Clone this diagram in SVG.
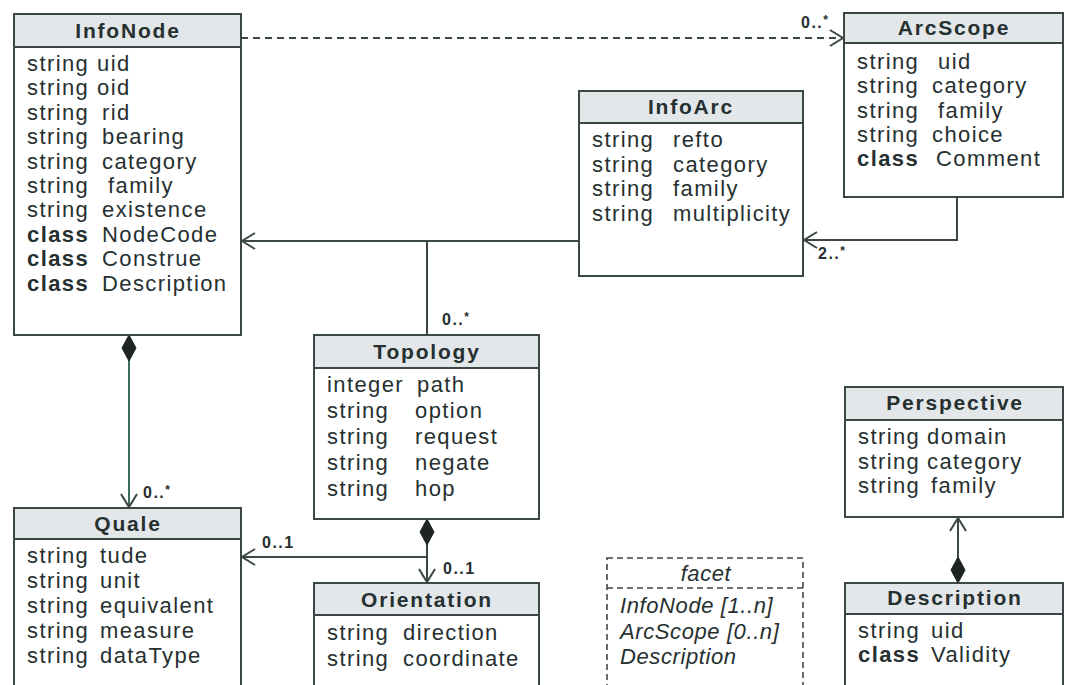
<svg xmlns="http://www.w3.org/2000/svg" width="1066" height="685" viewBox="0 0 1066 685">
  <style>
    .box { fill: #ffffff; stroke: #3b4744; stroke-width: 2; }
    .head { fill: #e3e7e9; stroke: #3b4744; stroke-width: 2; }
    .note { fill: #ffffff; stroke: #3b4744; stroke-width: 1.6; stroke-dasharray: 6 4; }
    .title { font-family: "Liberation Sans", Arial, sans-serif; font-weight: bold; font-size: 21px; letter-spacing: 1.8px; fill: #263030; text-anchor: middle; }
    .attr { font-family: "Liberation Sans", Arial, sans-serif; font-size: 22px; letter-spacing: 1.4px; fill: #263030; }
    .kw { font-weight: bold; }
    .it { font-family: "Liberation Sans", Arial, sans-serif; font-style: italic; font-size: 22px; letter-spacing: 0.6px; fill: #263030; }
    .mult { font-family: "Liberation Sans", Arial, sans-serif; font-weight: bold; font-size: 16px; letter-spacing: 1.5px; fill: #263030; }
    .star { font-size: 12px; }
    .edge { fill: none; stroke: #3b4744; stroke-width: 2; }
    .teal { stroke: #3a6c62; }
    .dash { stroke-dasharray: 7 5; }
  </style>
  <defs>
    <marker id="open" markerUnits="userSpaceOnUse" markerWidth="20" markerHeight="20" refX="0" refY="0" orient="auto" overflow="visible">
      <path d="M -13 -8 L 0 0 L -13 8" fill="none" stroke="#3b4744" stroke-width="2"/>
    </marker>
    <marker id="diamond" markerUnits="userSpaceOnUse" markerWidth="30" markerHeight="20" refX="0" refY="0" orient="auto" overflow="visible">
      <path d="M 0 0 L 13 -7 L 26 0 L 13 7 Z" fill="#1e2422" stroke="#1e2422" stroke-width="1"/>
    </marker>
  </defs>

  <!-- connectors and their multiplicities -->
  <g id="connectors">
    <path class="edge dash" d="M 241 38 L 843 38" marker-end="url(#open)"/>
    <path class="edge" d="M 957 197 L 957 240 L 804 240" marker-end="url(#open)"/>
    <path class="edge" d="M 579 241 L 242 241" marker-end="url(#open)"/>
    <path class="edge" d="M 427 241 L 427 335"/>
    <path class="edge teal" d="M 129 335 L 129 507" marker-start="url(#diamond)" marker-end="url(#open)"/>
    <path class="edge" d="M 427 519 L 427 582" marker-start="url(#diamond)" marker-end="url(#open)"/>
    <path class="edge" d="M 427 557 L 242 557" marker-end="url(#open)"/>
    <path class="edge" d="M 958 583 L 958 518" marker-start="url(#diamond)" marker-end="url(#open)"/>
    <text class="mult" x="801" y="28">0..<tspan class="star" dy="-4">*</tspan></text>
    <text class="mult" x="818" y="259">2..<tspan class="star" dy="-4">*</tspan></text>
    <text class="mult" x="442" y="325">0..<tspan class="star" dy="-4">*</tspan></text>
    <text class="mult" x="143" y="498">0..<tspan class="star" dy="-4">*</tspan></text>
    <text class="mult" x="262" y="548">0..1</text>
    <text class="mult" x="443" y="574">0..1</text>
  </g>

  <g id="InfoNode">
    <rect class="box" x="14" y="14" width="227" height="321"/>
    <rect class="head" x="14" y="14" width="227" height="33"/>
    <text class="title" x="128" y="38">InfoNode</text>
    <text class="attr" x="27" y="71">string<tspan x="97">uid</tspan></text>
    <text class="attr" x="27" y="95.4">string<tspan x="97">oid</tspan></text>
    <text class="attr" x="27" y="119.8">string<tspan x="102">rid</tspan></text>
    <text class="attr" x="27" y="144.2">string<tspan x="102">bearing</tspan></text>
    <text class="attr" x="27" y="168.6">string<tspan x="102">category</tspan></text>
    <text class="attr" x="27" y="193">string<tspan x="108">family</tspan></text>
    <text class="attr" x="27" y="217.4">string<tspan x="102">existence</tspan></text>
    <text class="attr" x="27" y="241.8"><tspan class="kw">class</tspan><tspan x="102">NodeCode</tspan></text>
    <text class="attr" x="27" y="266.2"><tspan class="kw">class</tspan><tspan x="102">Construe</tspan></text>
    <text class="attr" x="27" y="290.6"><tspan class="kw">class</tspan><tspan x="102">Description</tspan></text>
  </g>

  <g id="ArcScope">
    <rect class="box" x="844" y="13" width="219" height="184"/>
    <rect class="head" x="844" y="13" width="219" height="30"/>
    <text class="title" x="954" y="35">ArcScope</text>
    <text class="attr" x="857" y="69">string<tspan x="938">uid</tspan></text>
    <text class="attr" x="857" y="93.3">string<tspan x="932">category</tspan></text>
    <text class="attr" x="857" y="117.6">string<tspan x="938">family</tspan></text>
    <text class="attr" x="857" y="141.9">string<tspan x="932">choice</tspan></text>
    <text class="attr" x="857" y="166.2"><tspan class="kw">class</tspan><tspan x="936">Comment</tspan></text>
  </g>

  <g id="InfoArc">
    <rect class="box" x="579" y="91" width="224" height="185"/>
    <rect class="head" x="579" y="91" width="224" height="32"/>
    <text class="title" x="691" y="114">InfoArc</text>
    <text class="attr" x="592" y="147">string<tspan x="673">refto</tspan></text>
    <text class="attr" x="592" y="171.5">string<tspan x="673">category</tspan></text>
    <text class="attr" x="592" y="196">string<tspan x="673">family</tspan></text>
    <text class="attr" x="592" y="220.5">string<tspan x="673">multiplicity</tspan></text>
  </g>

  <g id="Topology">
    <rect class="box" x="314" y="335" width="225" height="184"/>
    <rect class="head" x="314" y="335" width="225" height="33"/>
    <text class="title" x="427" y="359">Topology</text>
    <text class="attr" x="327" y="392">integer<tspan x="417">path</tspan></text>
    <text class="attr" x="327" y="418">string<tspan x="415">option</tspan></text>
    <text class="attr" x="327" y="444">string<tspan x="415">request</tspan></text>
    <text class="attr" x="327" y="470">string<tspan x="415">negate</tspan></text>
    <text class="attr" x="327" y="496">string<tspan x="415">hop</tspan></text>
  </g>

  <g id="Orientation">
    <rect class="box" x="314" y="583" width="225" height="115"/>
    <rect class="head" x="314" y="583" width="225" height="32"/>
    <text class="title" x="427" y="607">Orientation</text>
    <text class="attr" x="327" y="640">string<tspan x="403">direction</tspan></text>
    <text class="attr" x="327" y="666">string<tspan x="403">coordinate</tspan></text>
  </g>

  <g id="Quale">
    <rect class="box" x="14" y="508" width="227" height="190"/>
    <rect class="head" x="14" y="508" width="227" height="31"/>
    <text class="title" x="128" y="531">Quale</text>
    <text class="attr" x="27" y="563">string<tspan x="100">tude</tspan></text>
    <text class="attr" x="27" y="588">string<tspan x="100">unit</tspan></text>
    <text class="attr" x="27" y="613">string<tspan x="100">equivalent</tspan></text>
    <text class="attr" x="27" y="638">string<tspan x="100">measure</tspan></text>
    <text class="attr" x="27" y="663">string<tspan x="100">dataType</tspan></text>
  </g>

  <g id="Perspective">
    <rect class="box" x="845" y="387" width="218" height="130"/>
    <rect class="head" x="845" y="387" width="218" height="33"/>
    <text class="title" x="955" y="410">Perspective</text>
    <text class="attr" x="858" y="444">string<tspan x="927">domain</tspan></text>
    <text class="attr" x="858" y="468.5">string<tspan x="927">category</tspan></text>
    <text class="attr" x="858" y="493">string<tspan x="931">family</tspan></text>
  </g>

  <g id="Description">
    <rect class="box" x="845" y="583" width="218" height="115"/>
    <rect class="head" x="845" y="583" width="218" height="31"/>
    <text class="title" x="955" y="605">Description</text>
    <text class="attr" x="858" y="638">string<tspan x="931">uid</tspan></text>
    <text class="attr" x="858" y="662"><tspan class="kw">class</tspan><tspan x="931">Validity</tspan></text>
  </g>

  <g id="facet">
    <rect class="note" x="607" y="558" width="196" height="140"/>
    <line class="note" x1="607" y1="588" x2="803" y2="588"/>
    <text class="it" x="706" y="581" text-anchor="middle">facet</text>
    <text class="it" x="620" y="613">InfoNode [1..n]</text>
    <text class="it" x="620" y="639">ArcScope [0..n]</text>
    <text class="it" x="620" y="664">Description</text>
  </g>
</svg>
